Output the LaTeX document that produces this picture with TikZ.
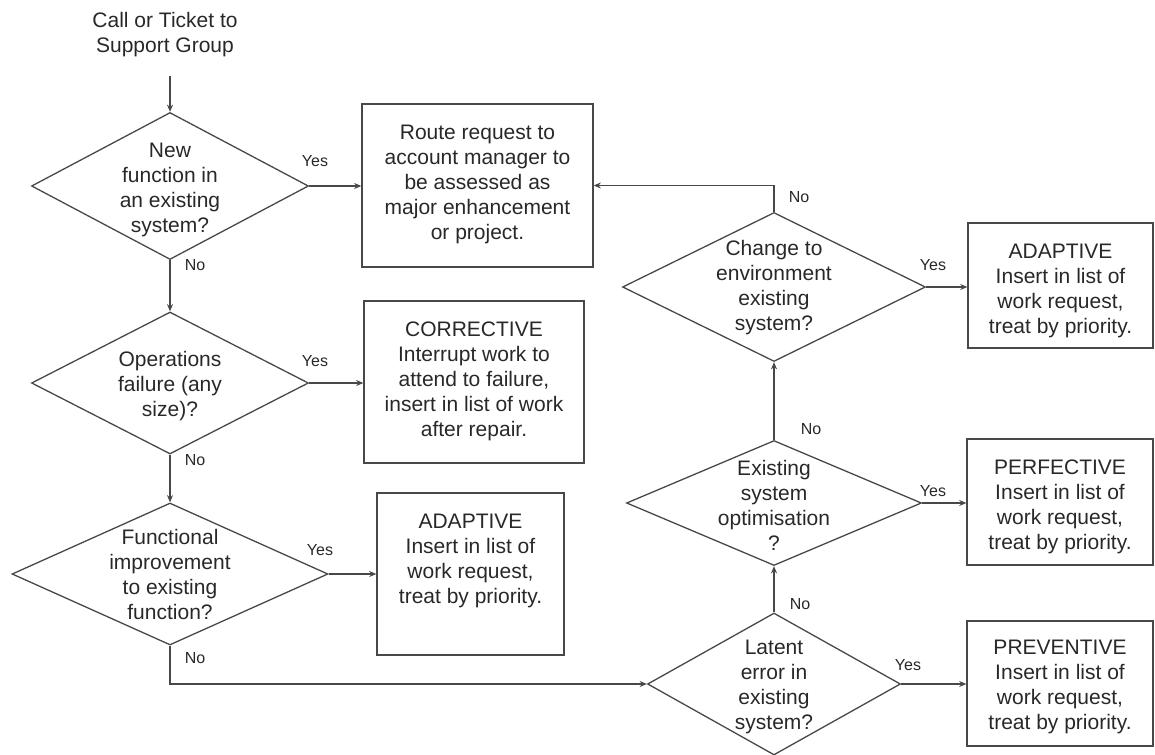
\documentclass[tikz,border=0pt]{standalone}
\usepackage{fontspec}
\setmainfont{Liberation Sans}
\usetikzlibrary{shapes.geometric,arrows.meta}
\definecolor{inkline}{RGB}{72,72,72}
\definecolor{inktext}{RGB}{40,40,40}
\begin{document}
\begin{tikzpicture}[x=0.5pt,y=-0.5pt,
  decision/.style={draw=inkline,line width=0.65pt,shape=diamond,inner sep=0pt},
  taskbox/.style={draw=inkline,line width=0.65pt,rectangle,inner sep=0pt},
  maintext/.style={align=center,inner sep=0pt,text=inktext,
    font=\fontsize{10.5}{12.5}\selectfont},
  boxtext/.style={maintext,anchor=north,yshift=-10.7pt},
  answer/.style={inner sep=0pt,text=inktext,font=\fontsize{8}{9.6}\selectfont},
  flow/.style={draw=inkline,line width=0.65pt,-{Stealth[length=3.6pt,width=3pt]}},
  plain/.style={draw=inkline,line width=0.65pt}
]
\useasboundingbox (0,0) rectangle (1155,754);

% entry point
\node[maintext] (start) at (165,35) {Call or Ticket to\\Support Group};
\coordinate (entry) at (170,76);

% left column of decisions
\node[decision,minimum width=138.5pt,minimum height=73.5pt] (d1) at (170,186) {};
\node[maintext] (d1t) at (170,189.5) {New\\function in\\an existing\\system?};
\node[decision,minimum width=138.5pt,minimum height=71pt] (d2) at (170,383) {};
\node[maintext] (d2t) at (170,386) {Operations\\failure (any\\size)?};
\node[decision,minimum width=158pt,minimum height=71pt] (d3) at (170,574) {};
\node[maintext] (d3t) at (170,574.5) {Functional\\improvement\\to existing\\function?};

% right column of decisions
\node[decision,minimum width=126.5pt,minimum height=71pt] (d4) at (774,684) {};
\node[maintext] (d4t) at (774,686.5) {Latent\\error in\\existing\\system?};
\node[decision,minimum width=147.5pt,minimum height=62.5pt] (d5) at (774,503) {};
\node[maintext] (d5t) at (774,505) {Existing\\system\\optimisation\\?};
\node[decision,minimum width=151.5pt,minimum height=74.5pt] (d6) at (774,287) {};
\node[maintext] (d6t) at (774,287.5) {Change to\\environment\\existing\\system?};

% outcome boxes
\node[taskbox,minimum width=115.5pt,minimum height=81.5pt] (b1) at (477.5,185.5) {};
\node[boxtext] (b1t) at (b1.north) {Route request to\\account manager to\\be assessed as\\major enhancement\\or project.};
\node[taskbox,minimum width=110pt,minimum height=81pt] (b2) at (474,382) {};
\node[boxtext] (b2t) at (b2.north) {CORRECTIVE\\Interrupt work to\\attend to failure,\\insert in list of work\\after repair.};
\node[taskbox,minimum width=93.5pt,minimum height=81pt] (b3) at (470.5,574) {};
\node[boxtext] (b3t) at (b3.north) {ADAPTIVE\\Insert in list of\\work request,\\treat by priority.};
\node[taskbox,minimum width=92.5pt,minimum height=62.5pt] (b6) at (1060.5,285.5) {};
\node[boxtext] (b6t) at (b6.north) {ADAPTIVE\\Insert in list of\\work request,\\treat by priority.};
\node[taskbox,minimum width=93pt,minimum height=63pt] (b5) at (1060,502) {};
\node[boxtext] (b5t) at (b5.north) {PERFECTIVE\\Insert in list of\\work request,\\treat by priority.};
\node[taskbox,minimum width=93pt,minimum height=62.5pt] (b4) at (1060,683.5) {};
\node[boxtext,yshift=1pt] (b4t) at (b4.north) {PREVENTIVE\\Insert in list of\\work request,\\treat by priority.};

% connectors
\draw[flow] (entry) -- (d1.north);
\draw[flow] (d1.east) -- (d1.east -| b1.west);
\draw[flow] (d1.south) -- (d2.north);
\draw[flow] (d2.east) -- (d2.east -| b2.west);
\draw[flow] (d2.south) -- (d3.north);
\draw[flow] (d3.east) -- (d3.east -| b3.west);
\draw[flow] (d3.south) |- (d4.west);
\draw[flow] (d4.east) -- (d4.east -| b4.west);
\draw[flow] (d4.north) -- (d5.south);
\draw[flow] (d5.east) -- (d5.east -| b5.west);
\draw[flow] (d5.north) -- (d6.south);
\draw[flow] (d6.east) -- (d6.east -| b6.west);
\draw[flow] (d6.north) |- (b1.east);

% branch labels
\node[answer] (y1) at (315,161) {Yes};
\node[answer] (n1) at (195,265) {No};
\node[answer] (y2) at (315,361) {Yes};
\node[answer] (n2) at (195,460) {No};
\node[answer] (y3) at (320,550) {Yes};
\node[answer] (n3) at (195,658) {No};
\node[answer] (y4) at (908,665) {Yes};
\node[answer] (n4) at (800,604) {No};
\node[answer] (y5) at (933,491) {Yes};
\node[answer] (n5) at (811,429) {No};
\node[answer] (y6) at (933,265) {Yes};
\node[answer] (n6) at (799,197) {No};
\end{tikzpicture}
\end{document}
